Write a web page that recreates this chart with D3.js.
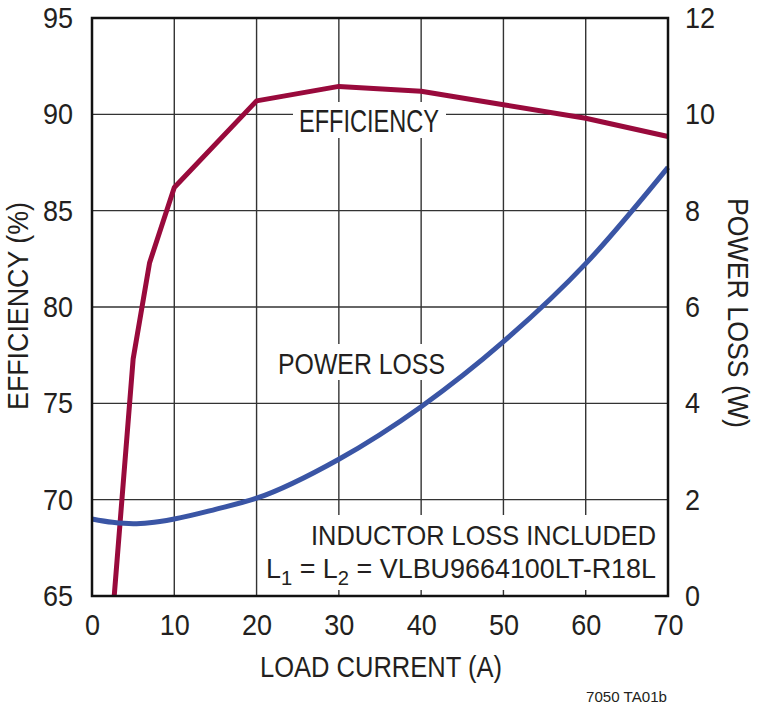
<!DOCTYPE html>
<html>
<head>
<meta charset="utf-8">
<script src="https://cdn.jsdelivr.net/npm/d3@7"></script>
<style>
  body { margin: 0; background: #fff; }
  text { font-family: "Liberation Sans", Arial, sans-serif; fill: #231f20; }
</style>
</head>
<body>
<div id="chart"></div>
<script>
// efficiency curve (left axis, %)
const effCurrent = [2.7, 5, 7, 10, 20, 30, 40, 50, 60, 70];
const effValues  = [65, 77.3, 82.3, 86.2, 90.7, 91.45, 91.2, 90.5, 89.8, 88.85];

// power loss curve (right axis, W)
const lossCurrent = [0, 2.5, 5, 7, 10, 15, 20, 30, 40, 50, 60, 70];
const lossValues  = [1.6, 1.53, 1.5, 1.52, 1.6, 1.8, 2.03, 2.84, 3.93, 5.28, 6.9, 8.9];

const xTicks = [0, 10, 20, 30, 40, 50, 60, 70];
const effTicks = [65, 70, 75, 80, 85, 90, 95];
const lossTicks = [0, 2, 4, 6, 8, 10, 12];

(function () {
    'use strict'

    const W = 760, H = 708;
    const left = 92, right = 668, top = 18, bottom = 596;

    const svg = d3.select("#chart").append("svg").attr("width", W).attr("height", H);

    const x = d3.scaleLinear().domain([0, 70]).range([left, right]);
    const yEff = d3.scaleLinear().domain([65, 95]).range([bottom, top]);
    const yLoss = d3.scaleLinear().domain([0, 12]).range([bottom, top]);

    // squeeze text to a fixed width (the original uses a condensed face)
    function fit(sel, len) {
        sel.attr("textLength", len).attr("lengthAdjust", "spacingAndGlyphs");
        return sel;
    }
    function condense(sel, k) {
        sel.each(function () {
            const w = this.getComputedTextLength();
            d3.select(this).attr("textLength", w * k).attr("lengthAdjust", "spacingAndGlyphs");
        });
    }

    // grid
    const grid = svg.append("g").attr("stroke", "#333").attr("stroke-width", 1.4);
    grid.selectAll("line.v").data(xTicks.slice(1, -1)).enter().append("line")
        .attr("x1", d => x(d)).attr("x2", d => x(d)).attr("y1", top).attr("y2", bottom);
    grid.selectAll("line.h").data(effTicks.slice(1, -1)).enter().append("line")
        .attr("x1", left).attr("x2", right).attr("y1", d => yEff(d)).attr("y2", d => yEff(d));

    // labels in the plot, on white
    svg.append("rect").attr("x", 293).attr("y", 102).attr("width", 153).attr("height", 36).attr("fill", "#fff");
    fit(svg.append("text").attr("x", 299).attr("y", 132).attr("font-size", 31).text("EFFICIENCY"), 140);

    svg.append("rect").attr("x", 272).attr("y", 344).attr("width", 180).attr("height", 36).attr("fill", "#fff");
    fit(svg.append("text").attr("x", 278).attr("y", 374).attr("font-size", 29.5).text("POWER LOSS"), 167);

    svg.append("rect").attr("x", 262).attr("y", 515).attr("width", 402).attr("height", 75).attr("fill", "#fff");
    fit(svg.append("text").attr("x", 311).attr("y", 545).attr("font-size", 28)
        .text("INDUCTOR LOSS INCLUDED"), 345);
    const lt = svg.append("text").attr("x", 266).attr("y", 578).attr("font-size", 28);
    lt.append("tspan").text("L");
    lt.append("tspan").attr("dy", 7).attr("font-size", 21).text("1");
    lt.append("tspan").attr("dy", -7).text(" = L");
    lt.append("tspan").attr("dy", 7).attr("font-size", 21).text("2");
    lt.append("tspan").attr("dy", -7).text(" = VLBU9664100LT-R18L");
    fit(lt, 390);

    // curves
    const effLine = d3.line().x(d => x(d[0])).y(d => yEff(d[1]));
    svg.append("path")
        .attr("d", effLine(d3.zip(effCurrent, effValues)))
        .attr("fill", "none").attr("stroke", "#990a3c").attr("stroke-width", 5)
        .attr("stroke-linejoin", "round");

    const lossLine = d3.line().curve(d3.curveMonotoneX).x(d => x(d[0])).y(d => yLoss(d[1]));
    svg.append("path")
        .attr("d", lossLine(d3.zip(lossCurrent, lossValues)))
        .attr("fill", "none").attr("stroke", "#3a55a5").attr("stroke-width", 5)
        .attr("stroke-linejoin", "round");

    // frame
    svg.append("rect").attr("x", left).attr("y", top).attr("width", right - left).attr("height", bottom - top)
        .attr("fill", "none").attr("stroke", "#111").attr("stroke-width", 2.5);

    // axes
    const xAxis = svg.append("g").attr("transform", `translate(0,${bottom})`)
        .call(d3.axisBottom(x).tickValues(xTicks).tickSize(0).tickPadding(28));
    const yAxisL = svg.append("g").attr("transform", `translate(${left},0)`)
        .call(d3.axisLeft(yEff).tickValues(effTicks).tickSize(0).tickPadding(19));
    const yAxisR = svg.append("g").attr("transform", `translate(${right},0)`)
        .call(d3.axisRight(yLoss).tickValues(lossTicks).tickSize(0).tickPadding(17));
    [xAxis, yAxisL, yAxisR].forEach(a => {
        a.select(".domain").remove();
        a.selectAll("text").attr("font-size", 30).attr("font-family", null).attr("fill", "#231f20");
        condense(a.selectAll("text"), 0.9);
    });
    xAxis.selectAll("text").attr("y", 39).attr("dy", null);

    // titles
    fit(svg.append("text").attr("x", 260).attr("y", 677)
        .attr("font-size", 30).text("LOAD CURRENT (A)"), 242);
    fit(svg.append("text").attr("transform", "translate(28,306) rotate(-90)").attr("text-anchor", "middle")
        .attr("font-size", 29.5).text("EFFICIENCY (%)"), 208);
    fit(svg.append("text").attr("transform", "translate(728,313) rotate(90)").attr("text-anchor", "middle")
        .attr("font-size", 30).text("POWER LOSS (W)"), 230);
    fit(svg.append("text").attr("x", 586).attr("y", 702)
        .attr("font-size", 15).text("7050 TA01b"), 81);

}());
</script>
</body>
</html>
